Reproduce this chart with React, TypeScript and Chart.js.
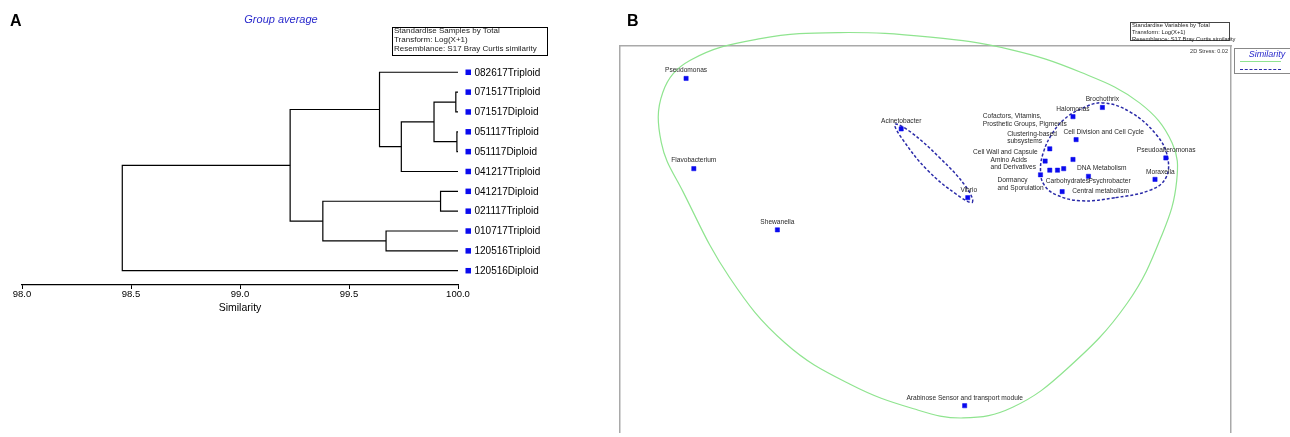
import React, { useEffect, useRef } from "react";
import { Chart, registerables } from "chart.js";

Chart.register(...registerables);

const FONT = '"Liberation Sans", Arial, sans-serif';

// ---------------- Panel A : group-average dendrogram ----------------
const leafLabels = [
  "082617Triploid",
  "071517Triploid",
  "071517Diploid",
  "051117Triploid",
  "051117Diploid",
  "041217Triploid",
  "041217Diploid",
  "021117Triploid",
  "010717Triploid",
  "120516Triploid",
  "120516Diploid",
];
// each merge joins two clusters (0-10 = leaves, 11+ = earlier merges)
const mergeLeft = [1, 3, 11, 13, 0, 6, 8, 16, 15, 19];
const mergeRight = [2, 4, 12, 5, 14, 7, 9, 17, 18, 10];
const mergeSimilarity = [99.99, 99.995, 99.89, 99.74, 99.64, 99.92, 99.67, 99.38, 99.23, 98.46];
const similarityTicks = [98.0, 98.5, 99.0, 99.5, 100.0];

// ---------------- Panel B : nMDS of variables ----------------
const variableNames = [
  "Pseudomonas",
  "Flavobacterium",
  "Shewanella",
  "Arabinose Sensor and transport module",
  "Acinetobacter",
  "Vibrio",
  "Halomonas",
  "Brochothrix",
  "Cell Division and Cell Cycle",
  "Cofactors, Vitamins,\nProsthetic Groups, Pigments",
  "Clustering-based\nsubsystems",
  "Cell Wall and Capsule",
  "Amino Acids\nand Derivatives",
  "Dormancy\nand Sporulation",
  "Carbohydrates",
  "DNA Metabolism",
  "Psychrobacter",
  "Central metabolism",
  "Pseudoalteromonas",
  "Moraxella",
];
const mdsX = [-1.56, -1.51, -0.97, 0.24, -0.17, 0.26, 0.94, 1.13, 0.96, 0.79, 0.76, 0.79, 0.84, 0.73, 0.88, 0.94, 1.04, 0.87, 1.54, 1.47];
const mdsY = [1.09, 0.5, 0.1, -1.05, 0.76, 0.31, 0.84, 0.9, 0.69, 0.63, 0.55, 0.49, 0.49, 0.46, 0.5, 0.56, 0.45, 0.35, 0.57, 0.43];

// similarity contours (outline points; drawn as closed curves)
const outerContourX = [1.29, 0.9, 0.55, 0.23, -0.09, -0.5, -0.92, -1.28, -1.58, -1.72, -1.71, -1.53, -1.08, -0.57, 0.02, 0.53, 0.99, 1.37, 1.58, 1.61, 1.52];
const outerContourY = [-0.38, -0.81, -1.06, -1.13, -1.07, -0.91, -0.64, -0.21, 0.35, 0.67, 1.0, 1.21, 1.35, 1.39, 1.36, 1.28, 1.13, 0.93, 0.67, 0.42, 0.08];
const vibrioContourX = [0.29, 0.25, 0.08, -0.11, -0.21, -0.16, 0.0, 0.19];
const vibrioContourY = [0.28, 0.38, 0.57, 0.74, 0.79, 0.69, 0.49, 0.33];
const clusterContourX = [1.21, 0.99, 0.83, 0.75, 0.73, 0.75, 0.8, 0.88, 0.99, 1.13, 1.31, 1.48, 1.55, 1.54, 1.44];
const clusterContourY = [0.31, 0.29, 0.33, 0.4, 0.5, 0.61, 0.72, 0.82, 0.89, 0.93, 0.87, 0.72, 0.58, 0.44, 0.36];

// label placement (style only: pixel offsets from the marker)
const labelPlacement: { dx: number; dy: number; align: CanvasTextAlign }[] = [
  { dx: 0, dy: -8, align: "center" },
  { dx: 0, dy: -8, align: "center" },
  { dx: 0, dy: -7.5, align: "center" },
  { dx: 0, dy: -7.6, align: "center" },
  { dx: 0, dy: -8, align: "center" },
  { dx: 1, dy: -8, align: "center" },
  { dx: 0, dy: -7.5, align: "center" },
  { dx: 0, dy: -8, align: "center" },
  { dx: -12.7, dy: -7.7, align: "left" },
  { dx: -67, dy: -32.6, align: "left" },
  { dx: -38, dy: -27, align: "left" },
  { dx: -76.7, dy: -18, align: "left" },
  { dx: -67, dy: -10.3, align: "left" },
  { dx: -43, dy: 5.7, align: "left" },
  { dx: -18, dy: 12.6, align: "left" },
  { dx: 4, dy: 8.7, align: "left" },
  { dx: 0, dy: 5, align: "left" },
  { dx: 10, dy: 0, align: "left" },
  { dx: -29, dy: -7.7, align: "left" },
  { dx: -9, dy: -7.4, align: "left" },
];

const toPoints = (xs: number[], ys: number[]) => xs.map((x, i) => ({ x, y: ys[i] }));

function buildDendrogram() {
  const nodeY: number[] = leafLabels.map((_, i) => i);
  const nodeX: number[] = leafLabels.map(() => 100);
  const datasets: any[] = [];
  mergeSimilarity.forEach((s, k) => {
    const a = mergeLeft[k];
    const b = mergeRight[k];
    datasets.push({
      data: [
        { x: nodeX[a], y: nodeY[a] },
        { x: s, y: nodeY[a] },
        { x: s, y: nodeY[b] },
        { x: nodeX[b], y: nodeY[b] },
      ],
      showLine: true,
      borderColor: "#000",
      borderWidth: 1.2,
      pointRadius: 0,
      tension: 0,
      fill: false,
      clip: false,
    });
    nodeY.push((nodeY[a] + nodeY[b]) / 2);
    nodeX.push(s);
  });
  return datasets;
}

const leafPlugin = {
  id: "leafLabels",
  afterDraw(chart: any) {
    const { ctx, scales } = chart;
    const tip = scales.x.getPixelForValue(100);
    ctx.save();
    ctx.font = `10px ${FONT}`;
    ctx.textBaseline = "middle";
    ctx.textAlign = "left";
    leafLabels.forEach((lab, i) => {
      const py = scales.y.getPixelForValue(i);
      ctx.fillStyle = "#0a0aee";
      ctx.fillRect(tip + 7.5, py - 2.75, 5.5, 5.5);
      ctx.fillStyle = "#000";
      ctx.fillText(lab, tip + 16.5, py + 0.5);
    });
    ctx.restore();
  },
};

// close the contour lines smoothly (same mechanism the radar chart uses)
const closedLoopPlugin = {
  id: "closedLoops",
  beforeDatasetsDraw(chart: any) {
    chart.data.datasets.forEach((ds: any, i: number) => {
      if (!ds.closedLoop) return;
      const line = chart.getDatasetMeta(i).dataset;
      if (!line) return;
      line._loop = true;
      line._fullLoop = true;
      line._pointsUpdated = false;
      line._segments = undefined;
      line._path = undefined;
    });
  },
};

const pointLabelPlugin = {
  id: "pointLabels",
  afterDatasetsDraw(chart: any) {
    const { ctx } = chart;
    const meta = chart.getDatasetMeta(0);
    ctx.save();
    ctx.font = `6.6px ${FONT}`;
    ctx.fillStyle = "#2a2a2a";
    ctx.textBaseline = "middle";
    variableNames.forEach((name, i) => {
      const el = meta.data[i];
      const p = labelPlacement[i];
      ctx.textAlign = p.align;
      name.split("\n").forEach((line, li) => {
        ctx.fillText(line, el.x + p.dx, el.y + p.dy + li * 7.6);
      });
    });
    ctx.restore();
  },
};

const hiddenAxis = (position: string, min: number, max: number) => ({
  type: "linear",
  position,
  min,
  max,
  grid: { display: false, drawTicks: false },
  ticks: { display: false },
  border: { display: true, color: "#a9a9a9", width: 1.5 },
});

const contourStyle = (color: string, width: number, dash: number[]) => ({
  type: "line",
  showLine: true,
  tension: 0.4,
  spanGaps: true,
  capBezierPoints: false,
  borderColor: color,
  borderWidth: width,
  borderDash: dash,
  pointRadius: 0,
  fill: false,
  clip: false,
  closedLoop: true,
});

export default function App() {
  const refA = useRef<HTMLCanvasElement>(null);
  const refB = useRef<HTMLCanvasElement>(null);

  useEffect(() => {
    const chartA = new Chart(refA.current as HTMLCanvasElement, {
      type: "scatter",
      data: { datasets: buildDendrogram() },
      options: {
        animation: false,
        responsive: false,
        events: [],
        layout: { padding: { left: 22, right: 142, top: 30, bottom: 2 } },
        plugins: { legend: { display: false }, tooltip: { enabled: false } },
        scales: {
          x: {
            type: "linear",
            min: 98,
            max: 100,
            afterBuildTicks: (s: any) => {
              s.ticks = similarityTicks.map((v) => ({ value: v }));
            },
            ticks: {
              callback: (v: any) => Number(v).toFixed(1),
              color: "#000",
              font: { size: 9.5, family: FONT },
              padding: 0,
              maxRotation: 0,
              autoSkip: false,
            },
            grid: { drawOnChartArea: false, drawTicks: true, tickLength: 4, color: "#000", lineWidth: 1 },
            border: { display: true, color: "#000", width: 1.2 },
            title: {
              display: true,
              text: "Similarity",
              color: "#000",
              font: { size: 10.5, family: FONT },
              padding: { top: 1, bottom: 4 },
            },
          },
          y: { type: "linear", display: false, reverse: true, min: -2.13, max: 10.72 },
        },
      } as any,
      plugins: [leafPlugin],
    });

    const chartB = new Chart(refB.current as HTMLCanvasElement, {
      type: "scatter",
      data: {
        datasets: [
          {
            data: toPoints(mdsX, mdsY),
            pointStyle: "rect",
            pointRadius: 3,
            borderWidth: 0.5,
            backgroundColor: "#0a0aee",
            borderColor: "#0a0aee",
            showLine: false,
          },
          { data: toPoints(clusterContourX, clusterContourY), ...contourStyle("#2a2aa8", 1.5, [3, 2]) },
          { data: toPoints(vibrioContourX, vibrioContourY), ...contourStyle("#2a2aa8", 1.5, [3, 2]) },
          { data: toPoints(outerContourX, outerContourY), ...contourStyle("#8fe48f", 1.2, []) },
        ] as any,
      },
      options: {
        animation: false,
        responsive: false,
        events: [],
        layout: { padding: { left: 20, right: 59, top: 46, bottom: 0 } },
        plugins: { legend: { display: false }, tooltip: { enabled: false } },
        scales: {
          x: hiddenAxis("top", -1.987, 1.961),
          y: hiddenAxis("left", -1.225, 1.302),
          yRight: hiddenAxis("right", 0, 1),
        },
      } as any,
      plugins: [closedLoopPlugin, pointLabelPlugin],
    });

    return () => {
      chartA.destroy();
      chartB.destroy();
    };
  }, []);

  const abs = (s: React.CSSProperties): React.CSSProperties => ({ position: "absolute", whiteSpace: "nowrap", ...s });

  return (
    <div
      style={{
        position: "fixed",
        left: 0,
        top: 0,
        width: 1290,
        height: 437,
        overflow: "hidden",
        background: "#fff",
        fontFamily: FONT,
      }}
    >
      <canvas ref={refA} width={600} height={320} style={{ position: "absolute", left: 0, top: 0 }} />
      <canvas ref={refB} width={690} height={437} style={{ position: "absolute", left: 600, top: 0 }} />

      {/* Panel A annotations */}
      <div style={abs({ left: 10, top: 13, fontSize: 16, fontWeight: "bold", lineHeight: 1 })}>A</div>
      <div
        style={abs({
          left: 281,
          top: 13.6,
          transform: "translateX(-50%)",
          fontSize: 11,
          fontStyle: "italic",
          color: "#2a2acc",
          lineHeight: 1,
        })}
      >
        Group average
      </div>
      <div
        style={abs({
          left: 392,
          top: 27,
          width: 156,
          height: 29,
          border: "1.3px solid #000",
          boxSizing: "border-box",
          fontSize: 8,
          lineHeight: "9.2px",
          paddingLeft: 1,
          overflow: "hidden",
          color: "#222",
        })}
      >
        <div style={{ marginTop: -2 }}>
          <div>Standardise Samples by Total</div>
          <div>Transform: Log(X+1)</div>
          <div>Resemblance: S17 Bray Curtis similarity</div>
        </div>
      </div>

      {/* Panel B annotations */}
      <div style={abs({ left: 627, top: 13, fontSize: 16, fontWeight: "bold", lineHeight: 1 })}>B</div>
      <div
        style={abs({
          left: 1130,
          top: 21.5,
          width: 100,
          height: 19.5,
          border: "1px solid #444",
          boxSizing: "border-box",
          fontSize: 5.8,
          lineHeight: "7px",
          paddingLeft: 1,
          color: "#222",
        })}
      >
        <div style={{ marginTop: -1 }}>
          <div>Standardise Variables by Total</div>
          <div>Transform: Log(X+1)</div>
          <div>Resemblance: S17 Bray Curtis similarity</div>
        </div>
      </div>
      <div style={abs({ right: 1290 - 1228, top: 48, fontSize: 5.5, lineHeight: "6px", color: "#333" })}>
        2D Stress: 0.02
      </div>
      <div
        style={abs({
          left: 1234,
          top: 47.5,
          width: 70,
          height: 26.5,
          border: "1px solid #888",
          boxSizing: "border-box",
        })}
      >
        <div
          style={abs({
            left: 32,
            top: 1,
            transform: "translateX(-50%)",
            fontSize: 9,
            fontStyle: "italic",
            color: "#2a2acc",
            lineHeight: "9px",
          })}
        >
          Similarity
        </div>
        <div style={abs({ left: 5, top: 12, width: 41, borderTop: "1.5px solid #8fe48f" })} />
        <div style={abs({ left: 5, top: 20, width: 41, borderTop: "1.5px dashed #2a2aa8" })} />
      </div>
    </div>
  );
}
